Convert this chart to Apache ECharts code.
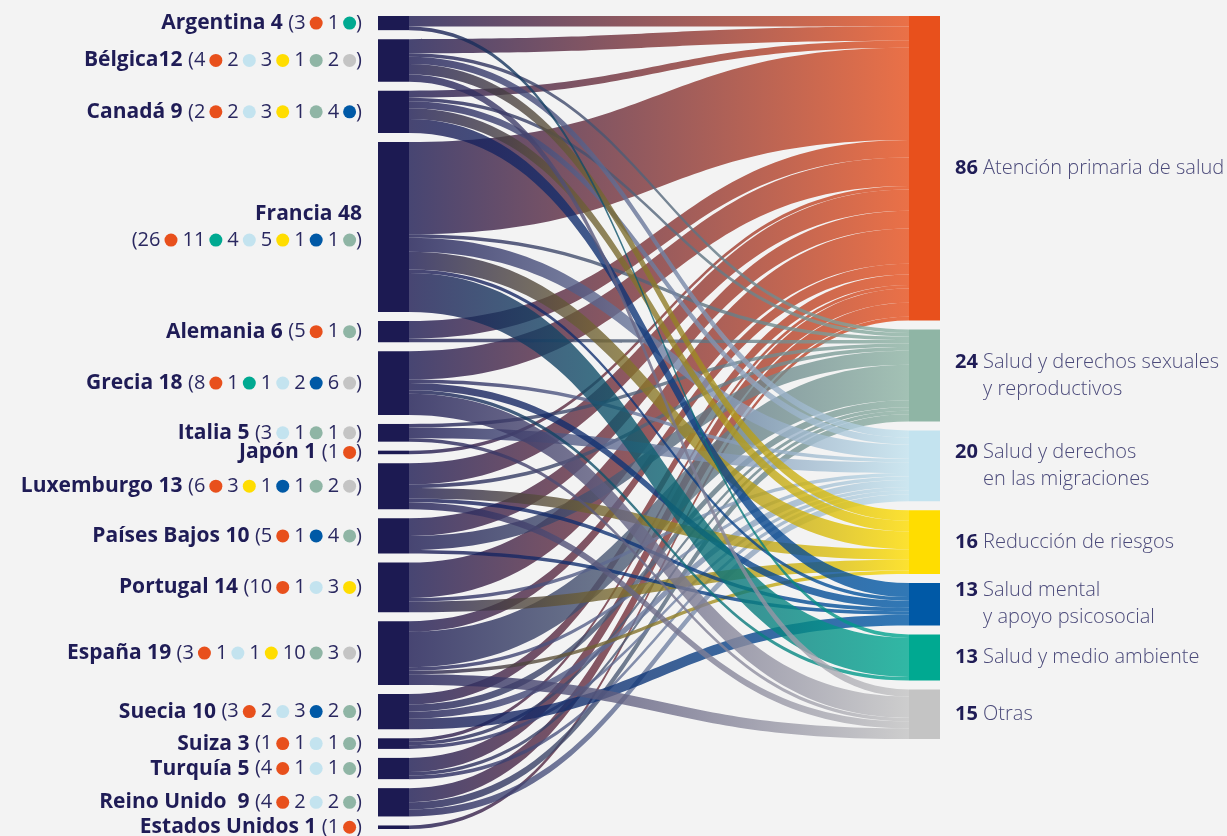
<!DOCTYPE html>
<html>
<head>
<meta charset="utf-8">
<title>Sankey</title>
<script src="https://cdn.jsdelivr.net/npm/echarts@6/dist/echarts.min.js"></script>
<style>
  html, body { margin: 0; padding: 0; background: #f3f3f3; }
  #chart { width: 1227px; height: 836px; }
</style>
</head>
<body>
<div id="chart"></div>
<script>
// paises (columna izquierda)
const countries = ['Argentina', 'Bélgica', 'Canadá', 'Francia', 'Alemania', 'Grecia', 'Italia', 'Japón',
  'Luxemburgo', 'Países Bajos', 'Portugal', 'España', 'Suecia', 'Suiza', 'Turquía', 'Reino Unido', 'Estados Unidos'];
const countryTitles = ['Argentina 4', 'Bélgica12', 'Canadá 9', 'Francia 48', 'Alemania 6', 'Grecia 18', 'Italia 5', 'Japón 1',
  'Luxemburgo 13', 'Países Bajos 10', 'Portugal 14', 'España 19', 'Suecia 10', 'Suiza 3', 'Turquía 5', 'Reino Unido  9', 'Estados Unidos 1'];

// areas (columna derecha)
const areaLines = [
  ['Atención primaria de salud'],
  ['Salud y derechos sexuales', 'y reproductivos'],
  ['Salud y derechos', 'en las migraciones'],
  ['Reducción de riesgos'],
  ['Salud mental', 'y apoyo psicosocial'],
  ['Salud y medio ambiente'],
  ['Otras']
];
const areaTotals = [86, 24, 20, 16, 13, 13, 15];
const areaColors = ['#e8501c', '#8fb5a5', '#c3e3ef', '#ffdd00', '#0059a6', '#00a991', '#c4c4c4'];

// proyectos por pais, una lista por area (mismo orden que countries)
const primaria    = [3, 4, 2, 26, 5, 8, 0, 1, 6, 5, 10, 3, 3, 1, 4, 4, 1];
const sexuales    = [0, 1, 1, 1, 1, 0, 1, 0, 1, 4, 0, 10, 2, 1, 1, 2, 0];
const migraciones = [0, 2, 2, 4, 0, 1, 3, 0, 0, 0, 1, 1, 2, 1, 1, 2, 0];
const riesgos     = [0, 3, 3, 5, 0, 0, 0, 0, 3, 0, 3, 1, 0, 0, 0, 0, 0];
const mental      = [0, 0, 4, 1, 0, 2, 0, 0, 1, 1, 0, 0, 3, 0, 0, 0, 0];
const ambiente    = [1, 0, 0, 11, 0, 1, 0, 0, 0, 0, 0, 0, 0, 0, 0, 0, 0];
const otras       = [0, 2, 0, 0, 0, 6, 1, 0, 2, 0, 0, 3, 0, 0, 0, 0, 0];
const flows = [primaria, sexuales, migraciones, riesgos, mental, ambiente, otras];

// orden de los puntos en las etiquetas de los paises
const dotOrder = [0, 5, 2, 3, 4, 1, 6];
const dotOrderCanada = [0, 2, 3, 1, 4];

const navy = '#1c1a52';
const areaNames = areaLines.map(l => l.join(' '));

const rich = {
  b: { fontFamily: 'Open Sans', fontWeight: 'bold', fontSize: 21, color: '#1f1c56', lineHeight: 26 },
  r: { fontFamily: 'Open Sans', fontSize: 20, color: '#2a2860', lineHeight: 26 },
  s: { width: 5 },
  g: { width: 4 }
};
areaColors.forEach((c, a) => {
  rich['d' + a] = { width: 13, height: 13, borderRadius: 7, backgroundColor: c };
});

function countryLabel(i) {
  const order = countries[i] === 'Canadá' ? dotOrderCanada : dotOrder;
  const parts = [];
  order.forEach(a => {
    const v = flows[a][i];
    if (v) parts.push('{r|' + v + '}{g| }{d' + a + '| }');
  });
  const head = countries[i] === 'Francia' ? '{b|' + countryTitles[i] + '}\n' : '{b|' + countryTitles[i] + ' }';
  return head + '{r|(}' + parts.join('{s| }') + '{r|)}';
}

function areaLabel(a) {
  const lines = areaLines[a];
  let s = '{n|' + areaTotals[a] + '}{t| ' + lines[0] + '}';
  for (let k = 1; k < lines.length; k++) s += '\n{p| }{t|' + lines[k] + '}';
  return s;
}

const nodes = [];
countries.forEach((c, i) => {
  nodes.push({
    name: c,
    itemStyle: { color: navy },
    label: { position: 'left', distance: 16, formatter: countryLabel(i), rich: rich }
  });
});
areaNames.forEach((n, a) => {
  nodes.push({
    name: n,
    itemStyle: { color: areaColors[a] },
    label: {
      position: 'right', distance: 15, align: 'left',
      formatter: areaLabel(a),
      rich: {
        n: { fontFamily: 'Open Sans', fontWeight: 'bold', fontSize: 20, color: '#1f1c56', lineHeight: 27 },
        t: { fontFamily: 'Open Sans', fontWeight: 300, fontSize: 20, color: '#4b4a7a', lineHeight: 27 },
        p: { width: 28 }
      }
    }
  });
});

const links = [];
flows.forEach((vals, a) => {
  vals.forEach((v, i) => {
    if (v > 0) links.push({ source: countries[i], target: areaNames[a], value: v });
  });
});

const chart = echarts.init(document.getElementById('chart'));
chart.setOption({
  backgroundColor: '#f3f3f3',
  animation: false,
  series: [{
    type: 'sankey',
    left: 378,
    right: 287,
    top: 16,
    bottom: 7,
    nodeWidth: 31,
    nodeGap: 9,
    layoutIterations: 0,
    draggable: false,
    emphasis: { disabled: true },
    itemStyle: { borderWidth: 0 },
    lineStyle: { color: 'gradient', opacity: 0.8, curveness: 0.5 },
    data: nodes,
    links: links
  }]
});
</script>
</body>
</html>
